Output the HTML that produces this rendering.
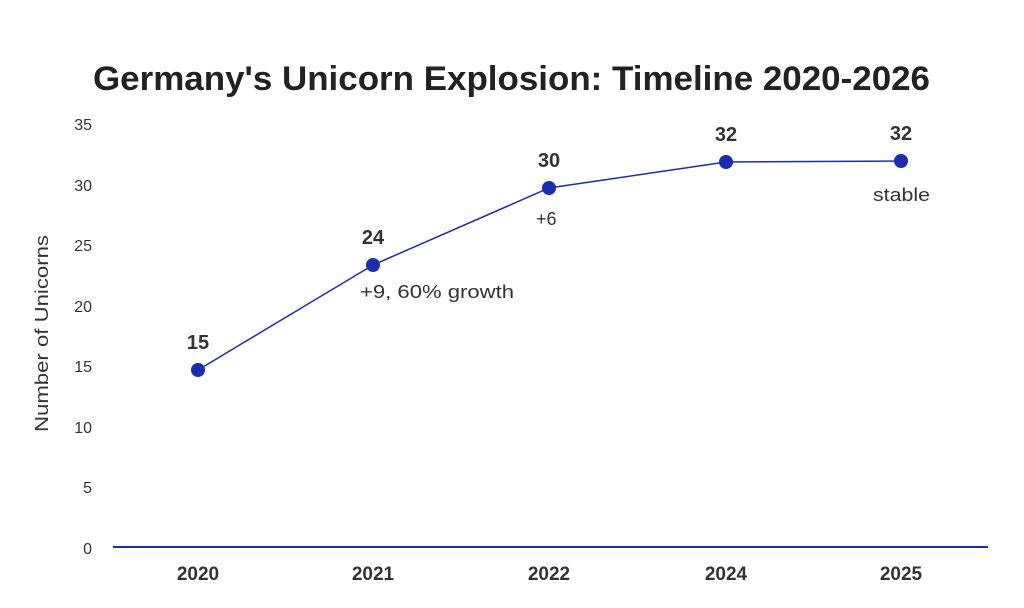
<!DOCTYPE html>
<html><head><meta charset="utf-8"><style>
html,body{margin:0;padding:0;background:#fff;}
svg{display:block;font-family:"Liberation Sans",sans-serif;}
</style></head><body>
<svg width="1024" height="608" viewBox="0 0 1024 608">
<rect width="1024" height="608" fill="#fff"/>
<text x="93" y="90" font-size="34" font-weight="bold" fill="#222" textLength="837" lengthAdjust="spacingAndGlyphs">Germany's Unicorn Explosion: Timeline 2020-2026</text>
<g font-size="16" fill="#333" text-anchor="end">
<text x="92" y="130">35</text>
<text x="92" y="191">30</text>
<text x="92" y="251">25</text>
<text x="92" y="312">20</text>
<text x="92" y="372">15</text>
<text x="92" y="433">10</text>
<text x="92" y="493">5</text>
<text x="92" y="554">0</text>
</g>
<text transform="translate(48,432) rotate(-90)" font-size="18" fill="#333" textLength="197" lengthAdjust="spacingAndGlyphs">Number of Unicorns</text>
<line x1="113" y1="547" x2="988" y2="547" stroke="#1a2db0" stroke-width="2"/>
<g font-size="19" font-weight="bold" fill="#333" text-anchor="middle">
<text x="198" y="580">2020</text>
<text x="373" y="580">2021</text>
<text x="549" y="580">2022</text>
<text x="726" y="580">2024</text>
<text x="901" y="580">2025</text>
</g>
<polyline points="198,370 373,265 549,188 726,162 901,161" fill="none" stroke="#1a2db0" stroke-width="1.5"/>
<g fill="#1a2db0">
<circle cx="198" cy="370" r="7"/><circle cx="373" cy="265" r="7"/><circle cx="549" cy="188" r="7"/><circle cx="726" cy="162" r="7"/><circle cx="901" cy="161" r="7"/>
</g>
<g font-size="20" font-weight="bold" fill="#333" text-anchor="middle">
<text x="198" y="349">15</text>
<text x="373" y="244">24</text>
<text x="549" y="167">30</text>
<text x="726" y="141">32</text>
<text x="901" y="140">32</text>
</g>
<g font-size="18" fill="#333">
<text x="360" y="298" textLength="154" lengthAdjust="spacingAndGlyphs">+9, 60% growth</text>
<text x="536" y="225">+6</text>
<text x="873" y="201" textLength="57" lengthAdjust="spacingAndGlyphs">stable</text>
</g>
</svg>
</body></html>
